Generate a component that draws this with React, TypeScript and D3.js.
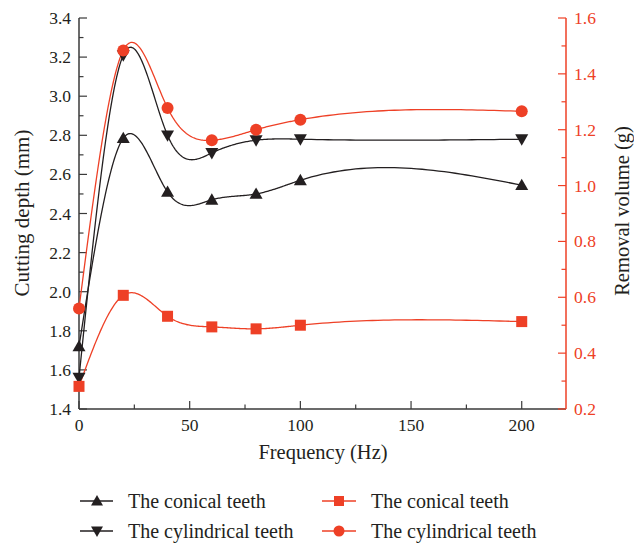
import React from "react";
import * as d3 from "d3";

const frequency = [0, 20, 40, 60, 80, 100, 200];
const depthConical = [1.72, 2.785, 2.51, 2.47, 2.50, 2.57, 2.545];
const depthCylindrical = [1.56, 3.21, 2.80, 2.71, 2.775, 2.78, 2.78];
const volumeConical = [0.281, 0.607, 0.532, 0.494, 0.487, 0.50, 0.513];
const volumeCylindrical = [0.56, 1.484, 1.278, 1.162, 1.20, 1.236, 1.266];

const xTicks = [0, 50, 100, 150, 200];
const xMinorTicks = [25, 75, 125, 175];
const leftTicks = [1.4, 1.6, 1.8, 2.0, 2.2, 2.4, 2.6, 2.8, 3.0, 3.2, 3.4];
const rightTicks = [0.2, 0.4, 0.6, 0.8, 1.0, 1.2, 1.4, 1.6];

const RED = "#ee4026";
const BLACK = "#231f20";
const AXIS = "#3a3a3a";
const FONT = "'Liberation Serif', 'DejaVu Serif', serif";

const left = 79, right = 566, top = 18, bottom = 409;

// natural cubic spline in x (y as a function of x), sampled densely for drawing
function naturalSpline(xs: number[], ys: number[]) {
  const n = xs.length;
  const h = xs.slice(1).map((v, i) => v - xs[i]);
  const a = new Array(n).fill(0), b = new Array(n).fill(0), c = new Array(n).fill(0), r = new Array(n).fill(0);
  b[0] = 1; b[n - 1] = 1;
  for (let i = 1; i < n - 1; i++) {
    a[i] = h[i - 1];
    b[i] = 2 * (h[i - 1] + h[i]);
    c[i] = h[i];
    r[i] = 6 * ((ys[i + 1] - ys[i]) / h[i] - (ys[i] - ys[i - 1]) / h[i - 1]);
  }
  // Thomas algorithm
  const cp = new Array(n).fill(0), rp = new Array(n).fill(0);
  cp[0] = c[0] / b[0]; rp[0] = r[0] / b[0];
  for (let i = 1; i < n; i++) {
    const m = b[i] - a[i] * cp[i - 1];
    cp[i] = c[i] / m;
    rp[i] = (r[i] - a[i] * rp[i - 1]) / m;
  }
  const M = new Array(n).fill(0);
  M[n - 1] = rp[n - 1];
  for (let i = n - 2; i >= 0; i--) M[i] = rp[i] - cp[i] * M[i + 1];
  const pts: [number, number][] = [];
  for (let i = 0; i < n - 1; i++) {
    const steps = 40;
    for (let s = 0; s <= steps; s++) {
      if (i > 0 && s === 0) continue;
      const t = xs[i] + (h[i] * s) / steps;
      const A = (xs[i + 1] - t) / h[i], B = (t - xs[i]) / h[i];
      const y = A * ys[i] + B * ys[i + 1] + ((A * A * A - A) * M[i] + (B * B * B - B) * M[i + 1]) * (h[i] * h[i]) / 6;
      pts.push([t, y]);
    }
  }
  return pts;
}

export default function App() {
  const x = d3.scaleLinear().domain([0, 220]).range([left, right]);
  const yL = d3.scaleLinear().domain([1.4, 3.4]).range([bottom, top]);
  const yR = d3.scaleLinear().domain([0.2, 1.6]).range([bottom, top]);

  const lineL = d3.line<[number, number]>().x((d) => x(d[0])).y((d) => yL(d[1]));
  const lineR = d3.line<[number, number]>().x((d) => x(d[0])).y((d) => yR(d[1]));

  const triUp = (cx: number, cy: number, s = 6.5) =>
    `M${cx},${cy - s}L${cx + s},${cy + s * 0.75}L${cx - s},${cy + s * 0.75}Z`;
  const triDown = (cx: number, cy: number, s = 6.5) =>
    `M${cx},${cy + s}L${cx + s},${cy - s * 0.75}L${cx - s},${cy - s * 0.75}Z`;

  const leftMinor = d3.range(1.5, 3.4, 0.2);
  const rightMinor = d3.range(0.3, 1.6, 0.2);

  return (
    <svg width={634} height={546} style={{ position: "absolute", left: 0, top: 0, background: "#fff" }} fontFamily={FONT}>
      {/* x axis */}
      <line x1={left} x2={right} y1={bottom} y2={bottom} stroke={AXIS} strokeWidth={1.5} />
      {xTicks.map((t) => (
        <g key={"xt" + t}>
          <line x1={x(t)} x2={x(t)} y1={bottom} y2={bottom - 8} stroke={AXIS} strokeWidth={1.2} />
          <text x={x(t)} y={bottom + 22} textAnchor="middle" fontSize={17.5} fill={BLACK}>{t}</text>
        </g>
      ))}
      {xMinorTicks.map((t) => (
        <line key={"xm" + t} x1={x(t)} x2={x(t)} y1={bottom} y2={bottom - 4.5} stroke={AXIS} strokeWidth={1.2} />
      ))}
      <text x={323} y={bottom + 50} textAnchor="middle" fontSize={20.5} fill={BLACK}>Frequency (Hz)</text>

      {/* left axis */}
      <line x1={left} x2={left} y1={top} y2={bottom} stroke={AXIS} strokeWidth={1.5} />
      {leftTicks.map((t) => (
        <g key={"yl" + t}>
          <line x1={left} x2={left + 8} y1={yL(t)} y2={yL(t)} stroke={AXIS} strokeWidth={1.2} />
          <text x={left - 8} y={yL(t) + 6} textAnchor="end" fontSize={17.5} fill={BLACK}>{t.toFixed(1)}</text>
        </g>
      ))}
      {leftMinor.map((t) => (
        <line key={"ylm" + t} x1={left} x2={left + 4.5} y1={yL(t)} y2={yL(t)} stroke={AXIS} strokeWidth={1.2} />
      ))}
      <text transform={`translate(29,213) rotate(-90)`} textAnchor="middle" fontSize={21} fill={BLACK}>Cutting depth (mm)</text>

      {/* right axis */}
      <line x1={right} x2={right} y1={top} y2={bottom} stroke={RED} strokeWidth={1.5} />
      {rightTicks.map((t) => (
        <g key={"yr" + t}>
          <line x1={right} x2={right - 8} y1={yR(t)} y2={yR(t)} stroke={RED} strokeWidth={1.2} />
          <text x={right + 8} y={yR(t) + 6} textAnchor="start" fontSize={17.5} fill={RED}>{t.toFixed(1)}</text>
        </g>
      ))}
      {rightMinor.map((t) => (
        <line key={"yrm" + t} x1={right} x2={right - 4.5} y1={yR(t)} y2={yR(t)} stroke={RED} strokeWidth={1.2} />
      ))}
      <text transform={`translate(629,211) rotate(-90)`} textAnchor="middle" fontSize={20.5} fill={BLACK}>Removal volume (g)</text>

      {/* lines */}
      <path d={lineR(naturalSpline(frequency, volumeCylindrical)) || ""} fill="none" stroke={RED} strokeWidth={1.3} />
      <path d={lineR(naturalSpline(frequency, volumeConical)) || ""} fill="none" stroke={RED} strokeWidth={1.3} />
      <path d={lineL(naturalSpline(frequency, depthCylindrical)) || ""} fill="none" stroke={BLACK} strokeWidth={1.3} />
      <path d={lineL(naturalSpline(frequency, depthConical)) || ""} fill="none" stroke={BLACK} strokeWidth={1.3} />

      {/* markers */}
      {depthConical.map((v, i) => (
        <path key={"m1" + i} d={triUp(x(frequency[i]), yL(v))} fill={BLACK} />
      ))}
      {depthCylindrical.map((v, i) => (
        <path key={"m2" + i} d={triDown(x(frequency[i]), yL(v))} fill={BLACK} />
      ))}
      {volumeConical.map((v, i) => (
        <rect key={"m3" + i} x={x(frequency[i]) - 5.5} y={yR(v) - 5.5} width={11} height={11} fill={RED} />
      ))}
      {volumeCylindrical.map((v, i) => (
        <circle key={"m4" + i} cx={x(frequency[i])} cy={yR(v)} r={6} fill={RED} />
      ))}

      {/* legend */}
      <g>
        <line x1={80} x2={113} y1={501} y2={501} stroke={BLACK} strokeWidth={1.3} />
        <path d={triUp(97, 501, 6)} fill={BLACK} />
        <text x={128} y={507.5} fontSize={20} fill={BLACK}>The conical teeth</text>

        <line x1={80} x2={113} y1={531} y2={531} stroke={BLACK} strokeWidth={1.3} />
        <path d={triDown(97, 531, 6)} fill={BLACK} />
        <text x={128} y={537.5} fontSize={20} fill={BLACK}>The cylindrical teeth</text>

        <line x1={322} x2={356} y1={501} y2={501} stroke={RED} strokeWidth={1.3} />
        <rect x={339 - 5} y={501 - 5} width={10} height={10} fill={RED} />
        <text x={371} y={507.5} fontSize={20} fill={BLACK}>The conical teeth</text>

        <line x1={322} x2={356} y1={531} y2={531} stroke={RED} strokeWidth={1.3} />
        <circle cx={339} cy={531} r={5.5} fill={RED} />
        <text x={371} y={537.5} fontSize={20} fill={BLACK}>The cylindrical teeth</text>
      </g>
    </svg>
  );
}
